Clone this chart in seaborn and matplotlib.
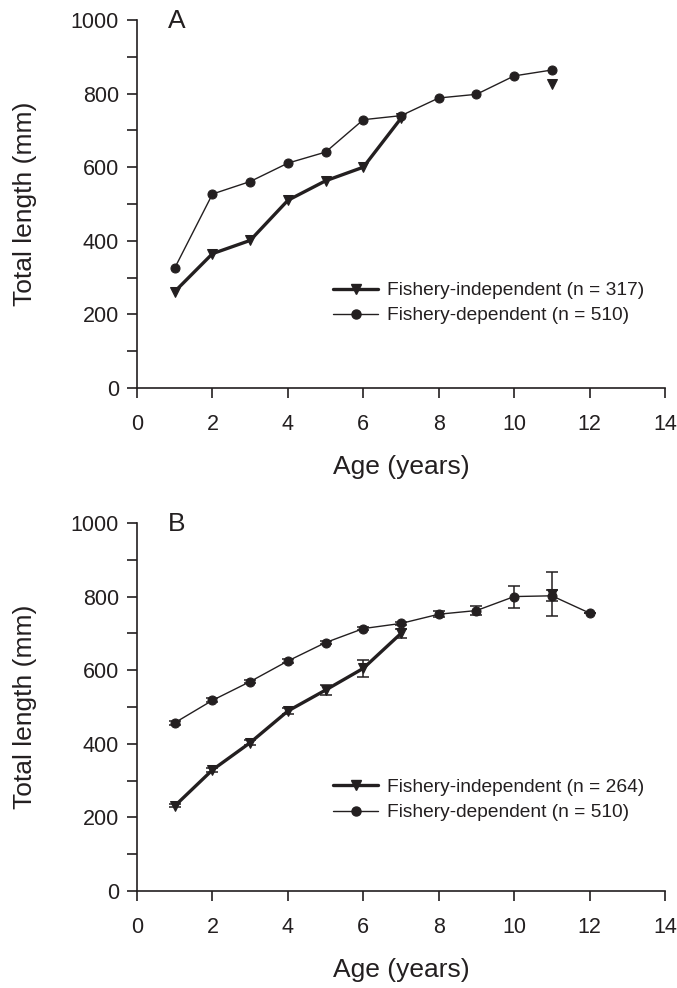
import numpy as np
import pandas as pd
import matplotlib
matplotlib.use("Agg")
import matplotlib.pyplot as plt
from matplotlib.lines import Line2D
from matplotlib.ticker import MultipleLocator
import seaborn as sns

# ---- Panel A: mean total length at age ----
a_indep_age = [1, 2, 3, 4, 5, 6, 7, 11]
a_indep_len = [262, 365, 401, 510, 563, 600, 733, 827]
a_indep_seg = [0, 0, 0, 0, 0, 0, 0, 1]
a_dep_age = [1, 2, 3, 4, 5, 6, 7, 8, 9, 10, 11]
a_dep_len = [326, 527, 561, 611, 641, 729, 740, 788, 798, 848, 864]

# ---- Panel B: mean total length at age with standard errors ----
b_indep_age = [1, 2, 3, 4, 5, 6, 7, 11]
b_indep_len = [231, 329, 403, 489, 546, 605, 700, 807]
b_indep_se = [4, 5, 6, 7, 14, 23, 12, 59]
b_indep_seg = [0, 0, 0, 0, 0, 0, 0, 1]
b_dep_age = [1, 2, 3, 4, 5, 6, 7, 8, 9, 10, 11, 12]
b_dep_len = [457, 518, 569, 625, 675, 713, 727, 752, 762, 800, 802, 755]
b_dep_se = [5, 5, 5, 5, 5, 5, 5, 8, 13, 30, 15, 0]

labels_a = ["Fishery-independent (n = 317)", "Fishery-dependent (n = 510)"]
labels_b = ["Fishery-independent (n = 264)", "Fishery-dependent (n = 510)"]

INK = "#231f20"

sns.set_theme(style="ticks")
plt.rcParams["font.family"] = ["Liberation Sans", "DejaVu Sans"]
plt.rcParams.update({
    "axes.edgecolor": INK,
    "axes.linewidth": 1.2,
    "xtick.color": INK,
    "ytick.color": INK,
    "xtick.labelcolor": INK,
    "ytick.labelcolor": INK,
    "text.color": INK,
    "axes.labelcolor": INK,
})

fig = plt.figure(figsize=(6.77, 9.88), dpi=100)
ax_a = fig.add_axes([0.2024, 0.6073, 0.7800, 0.3725])
ax_b = fig.add_axes([0.2024, 0.0982, 0.7800, 0.3725])


def draw_panel(ax, ind_age, ind_len, ind_seg, dep_age, dep_len, labels,
               letter, legend_top, ind_se=None, dep_se=None):
    ind = pd.DataFrame({"age": ind_age, "length": ind_len, "seg": ind_seg})
    dep = pd.DataFrame({"age": dep_age, "length": dep_len})

    if dep_se is not None:
        ax.errorbar(dep_age, dep_len, yerr=dep_se, fmt="none", ecolor=INK,
                    elinewidth=1.1, capsize=4, capthick=1.1, zorder=2)
    if ind_se is not None:
        ax.errorbar(ind_age, ind_len, yerr=ind_se, fmt="none", ecolor=INK,
                    elinewidth=1.1, capsize=4, capthick=1.1, zorder=2)

    sns.lineplot(data=dep, x="age", y="length", ax=ax, color=INK,
                 linewidth=1.0, marker="o", markersize=6.5,
                 markeredgecolor=INK, markerfacecolor=INK, zorder=3)
    sns.lineplot(data=ind, x="age", y="length", units="seg", estimator=None,
                 ax=ax, color=INK, linewidth=2.4, marker="v", markersize=7.5,
                 markeredgecolor=INK, markerfacecolor=INK, zorder=4)

    ax.set_xlim(0, 14)
    ax.set_ylim(0, 1000)
    ax.xaxis.set_major_locator(MultipleLocator(2))
    ax.yaxis.set_major_locator(MultipleLocator(200))
    ax.yaxis.set_minor_locator(MultipleLocator(100))
    ax.tick_params(axis="both", which="major", direction="out", length=7,
                   width=1.2, labelsize=15.5, pad=6)
    ax.tick_params(axis="y", which="minor", direction="out", length=7,
                   width=1.2)
    ax.tick_params(axis="x", which="major", pad=12)
    ax.set_xlabel("Age (years)", fontsize=19, labelpad=14)
    ax.set_ylabel("Total length (mm)", fontsize=19, labelpad=24)
    sns.despine(ax=ax)
    ax.spines["left"].set_bounds(0, 1000)
    ax.spines["bottom"].set_bounds(0, 14)
    ax.patch.set_alpha(0)

    ax.text(0.059, 0.997, letter, transform=ax.transAxes, fontsize=19,
            va="center", ha="left", color=INK)

    handles = [
        Line2D([], [], color=INK, linewidth=2.4, marker="v", markersize=7.5,
               markerfacecolor=INK, markeredgecolor=INK),
        Line2D([], [], color=INK, linewidth=1.0, marker="o", markersize=6.5,
               markerfacecolor=INK, markeredgecolor=INK),
    ]
    ax.legend(handles, labels, loc="upper left",
              bbox_to_anchor=(0.372, legend_top), frameon=False,
              fontsize=13.8, handlelength=2.3, handletextpad=0.5,
              labelspacing=0.4, borderpad=0, borderaxespad=0)


draw_panel(ax_a, a_indep_age, a_indep_len, a_indep_seg, a_dep_age, a_dep_len,
           labels_a, "A", 0.288)
draw_panel(ax_b, b_indep_age, b_indep_len, b_indep_seg, b_dep_age, b_dep_len,
           labels_b, "B", 0.305, ind_se=b_indep_se, dep_se=b_dep_se)

fig.savefig("out.png", dpi=100)
